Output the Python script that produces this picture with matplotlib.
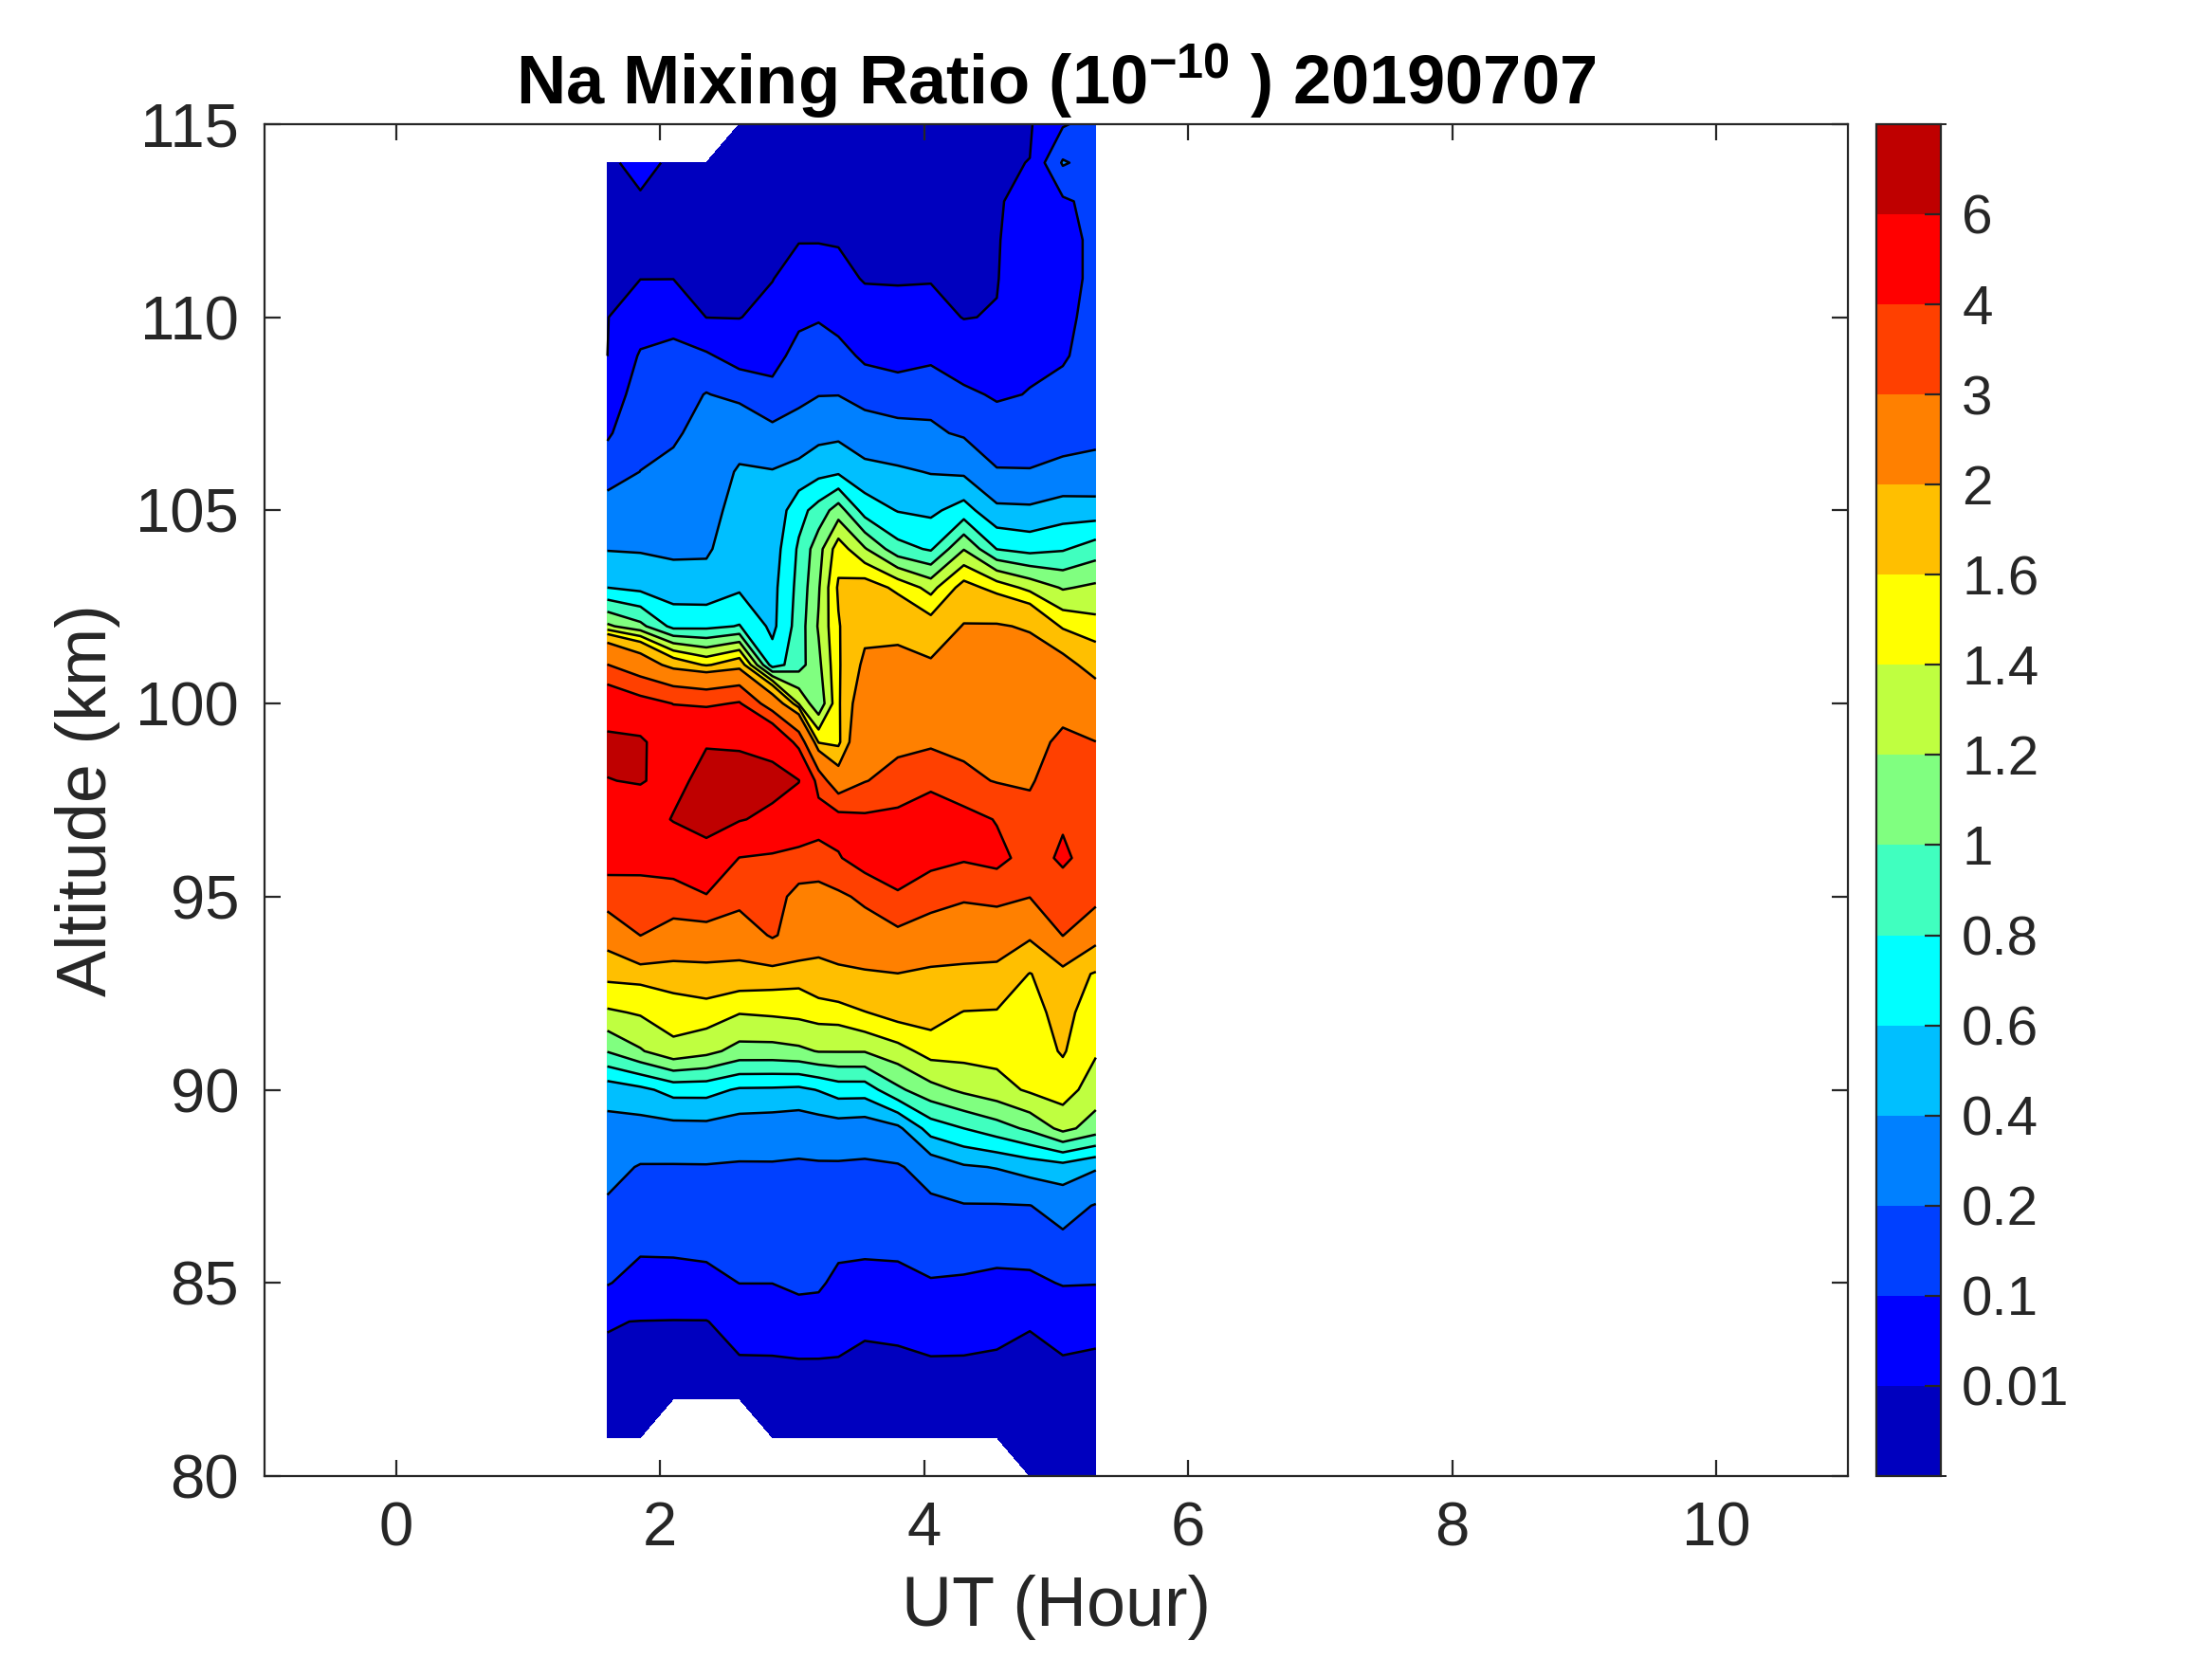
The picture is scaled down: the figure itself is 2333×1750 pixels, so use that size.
import numpy as np
import matplotlib
matplotlib.use('Agg')
import matplotlib.pyplot as plt
from matplotlib.colors import ListedColormap, BoundaryNorm
from matplotlib.cm import ScalarMappable

plt.rcParams['font.family'] = ['Liberation Sans', 'DejaVu Sans']
plt.rcParams['mathtext.fontset'] = 'custom'
plt.rcParams['mathtext.rm'] = 'Liberation Sans'
plt.rcParams['mathtext.bf'] = 'Liberation Sans:bold'

nan = np.nan

# UT of each lidar profile (hour) and altitude grid (km, top -> bottom)
ut_hours = [1.6, 1.85, 2.1, 2.35, 2.6, 2.85, 3.05, 3.2, 3.35, 3.55,
            3.8, 4.05, 4.3, 4.55, 4.8, 5.05, 5.3]
altitude_km = [115, 114, 113, 112, 111, 110, 109, 108, 107, 106, 105, 104,
               103, 102, 101, 100, 99, 98, 97, 96, 95, 94, 93, 92,
               91, 90, 89, 88, 87, 86, 85, 84, 83, 82, 81, 80]

# Na mixing ratio (1e-10), one profile per UT
na_0160 = [nan, .004, .005, .006, .007, .008, .0098, .048, .087, .152, .25, .39,
           .6, 1.24, 3.02, 4.96, 6.4, 5.96, 5.19, 4.41, 3.48, 2.22, 1.66, 1.37,
           1.01, .48, .335, .247, .182, .144, .106, .012, .005, .005, .004, nan]
na_0185 = [nan, .02, .006, .007, .009, .056, .109, .14, .17, .201, .292, .383,
           .552, 1.057, 2.4, 4.4, 6.3, 6.1, 5.1, 4.3, 3.63, 3.01, 1.67, 1.42,
           1.18, .55, .32, .19, .154, .117, .064, .009, .006, .005, .004, nan]
na_0210 = [nan, .004, .005, .006, .009, .075, .12, .15, .183, .229, .3, .363,
           .496, .738, 1.79, 3.98, 4.77, 5.54, 6.1, 4.57, 3.52, 2.6, 1.7, 1.5,
           1.34, .67, .33, .189, .155, .12, .062, .008, .006, .005, nan, nan]
na_0235 = [nan, .004, .005, .006, .007, .009, .111, .205, .243, .286, .33, .373,
           .48, .75, 1.57, 3.81, 5.9, 6.5, 6.5, 5.46, 3.9, 2.53, 1.78, 1.5,
           1.26, .67, .336, .19, .157, .124, .072, .008, .006, .005, nan, nan]
na_0260 = [.005, .004, .005, .006, .007, .008, .065, .167, .311, .422, .47, .52,
           .57, .81, 1.77, 4.09, 5.85, 6.5, 6.1, 3.97, 3.3, 2.46, 1.75, 1.41,
           1.13, .575, .294, .184, .156, .128, .101, .036, .006, .005, nan, nan]
na_0285 = [.004, .004, .005, .006, .008, .032, .072, .124, .23, .411, .45, .495,
           .537, .55, .7, 2.41, 5.48, 6.5, 5.64, 3.78, 3.37, 3.1, 1.72, 1.43,
           1.13, .57, .28, .187, .154, .127, .101, .041, .006, .005, .004, nan]
na_0305 = [.003, .004, .005, .007, .04, .084, .127, .17, .255, .474, .73, .83,
           .86, .89, .92, 1.38, 3.59, 6.05, 5.0, 3.6, 2.7, 2.6, 1.69, 1.45,
           1.16, .555, .262, .183, .16, .137, .114, .068, .008, .006, .005, nan]
na_0320 = [.003, .004, .005, .007, .041, .093, .1435, .194, .337, .54, .88, 1.12,
           1.18, 1.22, 1.15, 1.05, 1.57, 3.53, 4.6, 3.47, 2.7, 2.27, 1.8, 1.48,
           1.21, .61, .284, .184, .16, .136, .112, .063, .008, .006, .005, nan]
na_0335 = [.003, .004, .005, .007, .0227, .071, .129, .196, .354, .567, 1.1, 1.51,
           1.63, 1.58, 1.56, 1.55, 1.52, 2.3, 4.4, 3.92, 2.82, 2.34, 1.89, 1.49,
           1.21, .69, .298, .182, .15, .119, .08, .032, .008, .006, .005, nan]
na_0355 = [.003, .004, .005, .006, .007, .03, .085, .153, .27, .465, .71, 1.22,
           1.72, 1.88, 2.09, 2.38, 2.67, 2.96, 4.2, 4.5, 3.2, 2.47, 1.94, 1.59,
           1.21, .69, .278, .179, .148, .117, .073, .013, .007, .006, .005, nan]
na_0380 = [.003, .004, .005, .006, .007, .0237, .073, .136, .241, .43, .59, .87,
           1.55, 1.85, 2.16, 2.47, 2.79, 3.32, 4.3, 4.5, 3.9, 2.75, 1.99, 1.69,
           1.32, .96, .353, .185, .152, .12, .075, .015, .007, .006, .005, nan]
na_0405 = [.003, .004, .005, .006, .007, .03, .085, .147, .227, .39, .558, .777,
           1.33, 1.71, 2.06, 2.45, 2.84, 3.8, 4.5, 4.3, 3.4, 2.45, 1.9, 1.7,
           1.48, 1.13, .69, .263, .171, .134, .095, .037, .007, .006, .005, nan]
na_0430 = [.003, .004, .005, .006, .007, .008, .0486, .117, .178, .366, .684, 1.19,
           1.69, 2.025, 2.28, 2.53, 2.79, 3.21, 4.4, 4.1, 3.11, 2.37, 1.87, 1.59,
           1.47, 1.24, .8, .376, .19, .14, .089, .032, .007, .006, .005, nan]
na_0455 = [.003, .004, .005, .006, .007, .013, .05, .09, .143, .207, .443, .795,
           1.52, 2.034, 2.26, 2.49, 2.72, 2.95, 3.94, 4.3, 3.23, 2.35, 1.84, 1.58,
           1.47, 1.32, .91, .41, .19, .135, .078, .018, .007, .006, .005, nan]
na_0480 = [.003, .011, .0276, .042, .057, .072, .086, .103, .15, .205, .434, .733,
           1.34, 1.96, 2.21, 2.44, 2.67, 2.9, 3.3, 3.6, 3.02, 2.06, 1.59, 1.54,
           1.49, 1.43, 1.04, .476, .197, .14, .08, .011, .007, .006, .005, .004]
na_0505 = [.09, .21, .085, .07, .07, .078, .09, .128, .165, .223, .503, .78,
           1.18, 1.56, 2.18, 2.67, 3.2, 3.55, 3.9, 4.15, 3.55, 3.02, 1.76, 1.66,
           1.62, 1.49, 1.26, .52, .262, .161, .106, .031, .007, .006, .005, .004]
na_0530 = [.14, .16, .13, .12, .12, .13, .14, .15, .17, .24, .49, .9,
           1.24, 1.47, 1.79, 2.37, 3.01, 3.3, 3.5, 3.6, 3.3, 2.15, 1.57, 1.5,
           1.42, 1.3, 1.11, .42, .19, .15, .104, .017, .007, .006, .005, .004]

# contour levels (non uniform) and their band colours
levels = [0, 0.01, 0.1, 0.2, 0.4, 0.6, 0.8, 1, 1.2, 1.4, 1.6, 2, 3, 4, 6, 7]
tick_labels = ['0.01', '0.1', '0.2', '0.4', '0.6', '0.8', '1', '1.2', '1.4',
               '1.6', '2', '3', '4', '6']
band_colors = ['#0000bf', '#0000ff', '#0040ff', '#0080ff', '#00bfff', '#00ffff',
               '#40ffbf', '#80ff80', '#bfff40', '#ffff00', '#ffbf00', '#ff8000',
               '#ff4000', '#ff0000', '#bf0000']

profiles = [na_0160, na_0185, na_0210, na_0235, na_0260, na_0285, na_0305,
            na_0320, na_0335, na_0355, na_0380, na_0405, na_0430, na_0455,
            na_0480, na_0505, na_0530]
Z = np.ma.masked_invalid(np.array(profiles).T)
T, A = np.meshgrid(ut_hours, altitude_km)

fig = plt.figure(figsize=(2333 / 200, 1750 / 200), dpi=200)
ax = fig.add_axes([0.1194, 0.1103, 0.7162, 0.8149])
cax = fig.add_axes([0.8483, 0.1103, 0.0291, 0.8149])

dark = '#262626'
ax.contourf(T, A, Z, levels=levels, colors=band_colors, corner_mask=True)
ax.contour(T, A, Z, levels=levels[1:-1], colors='k', linewidths=0.9,
           corner_mask=True)

ax.set_xlim(-1, 11)
ax.set_ylim(80, 115)
ax.set_xticks([0, 2, 4, 6, 8, 10])
ax.set_yticks([80, 85, 90, 95, 100, 105, 110, 115])
ax.tick_params(direction='in', length=6, width=0.8, labelsize=23.5,
               top=True, right=True, colors=dark, pad=9.5)
for sp in ax.spines.values():
    sp.set_linewidth(0.8)
    sp.set_color(dark)
ax.set_xlabel('UT (Hour)', fontsize=26.5, color=dark, labelpad=6.5)
ax.set_ylabel('Altitude (km)', fontsize=26.5, color=dark, labelpad=6)
ax.set_title(r'Na Mixing Ratio (10$^{\mathbf{-10}}$ ) 20190707',
             fontsize=26, fontweight='bold', pad=7.5)

cmap = ListedColormap(band_colors)
norm = BoundaryNorm(levels, cmap.N)
cb = fig.colorbar(ScalarMappable(norm=norm, cmap=cmap), cax=cax,
                  spacing='uniform', ticks=levels[1:-1])
cb.ax.set_yticklabels(tick_labels)
cb.ax.tick_params(direction='in', length=6, width=0.8, labelsize=21,
                  colors=dark, pad=8)
cb.outline.set_linewidth(0.8)
cb.outline.set_edgecolor(dark)

fig.savefig('out.png', dpi=200)
